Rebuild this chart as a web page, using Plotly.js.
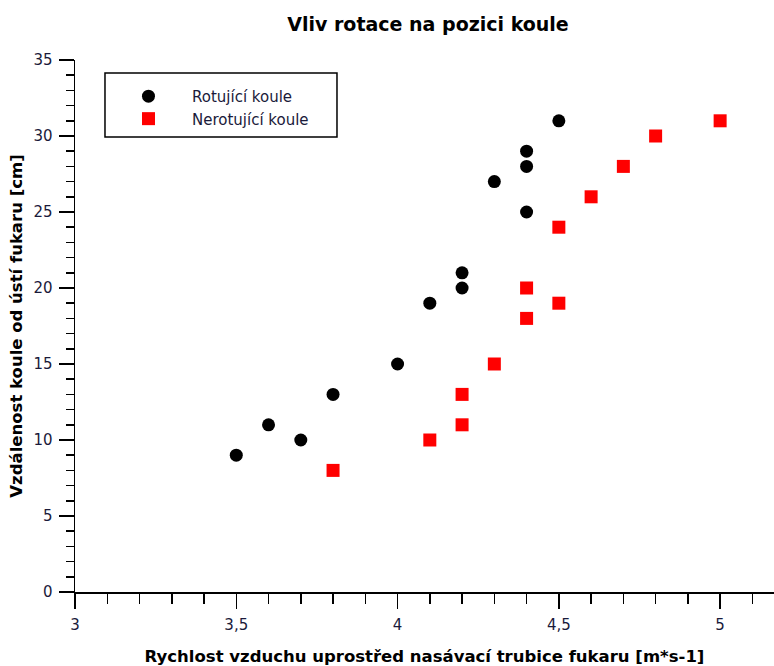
<!DOCTYPE html>
<html>
<head>
<meta charset="utf-8">
<script src="https://cdn.plot.ly/plotly-3.0.1.min.js"></script>
<style>html,body{margin:0;padding:0;background:#fff;}#chart{width:774px;height:666px;}</style>
</head>
<body>
<div id="chart"></div>
<script>
const rotX = [3.5, 3.6, 3.7, 3.8, 4.0, 4.1, 4.2, 4.2, 4.3, 4.4, 4.4, 4.4, 4.5];
const rotY = [9, 11, 10, 13, 15, 19, 20, 21, 27, 25, 28, 29, 31];
const nerX = [3.8, 4.1, 4.2, 4.2, 4.3, 4.4, 4.4, 4.5, 4.5, 4.6, 4.7, 4.8, 5.0];
const nerY = [8, 10, 11, 13, 15, 18, 20, 19, 24, 26, 28, 30, 31];
const seriesNames = ['Rotující koule', 'Nerotující koule'];
const chartTitle = 'Vliv rotace na pozici koule';
const xTitle = 'Rychlost vzduchu uprostřed nasávací trubice fukaru [m*s-1]';
const yTitle = 'Vzdálenost koule od ústí fukaru [cm]';

const font = 'DejaVu Sans, Verdana, sans-serif';
const textColor = '#1a1a3a';
const traces = [
  {x: rotX, y: rotY, name: seriesNames[0], type: 'scatter', mode: 'markers',
   marker: {symbol: 'circle', size: 13, color: '#000000'}},
  {x: nerX, y: nerY, name: seriesNames[1], type: 'scatter', mode: 'markers',
   marker: {symbol: 'square', size: 13, color: '#ff0000'}}
];
const axisCommon = {
  showgrid: false, zeroline: false, showline: true, linecolor: '#000', linewidth: 1.5,
  ticks: 'outside', tickcolor: '#000', tickwidth: 1.5,
  tickfont: {family: font, size: 15, color: textColor}
};
const layout = {
  width: 774, height: 666,
  margin: {l: 75, r: 0, t: 60, b: 74},
  paper_bgcolor: '#fff', plot_bgcolor: '#fff',
  separators: ',.',
  title: {text: chartTitle, font: {family: font, size: 19, color: '#000', weight: 'bold'},
          x: 0.553, xanchor: 'center', y: 0.964, yanchor: 'middle'},
  xaxis: Object.assign({}, axisCommon, {
    range: [3, 5.167], dtick: 0.5, tick0: 3, ticklen: 15, ticklabelstandoff: 3,
    minor: {dtick: 0.1, ticklen: 10, ticks: 'outside', tickcolor: '#000', tickwidth: 1.5},
    title: {text: xTitle, font: {family: font, size: 16.5, color: '#000', weight: 'bold'}, standoff: 19}
  }),
  yaxis: Object.assign({}, axisCommon, {
    range: [0, 35], dtick: 5, tick0: 0, ticklen: 15, ticklabelstandoff: 3,
    minor: {dtick: 1, ticklen: 8, ticks: 'outside', tickcolor: '#000', tickwidth: 1.5},
    title: {text: yTitle, font: {family: font, size: 16.5, color: '#000', weight: 'bold'}, standoff: 6}
  }),
  showlegend: true,
  legend: {x: 0.0429, y: 0.9626, xanchor: 'left', yanchor: 'top',
           bgcolor: 'rgba(0,0,0,0)', borderwidth: 0, itemwidth: 77,
           font: {family: font, size: 15, color: textColor}},
  shapes: [{type: 'rect', xref: 'paper', yref: 'paper', x0: 0.0429, x1: 0.3748, y0: 0.8553, y1: 0.9756,
            line: {color: '#000', width: 1.5}, fillcolor: 'rgba(0,0,0,0)', layer: 'below'}]
};
Plotly.newPlot('chart', traces, layout, {displayModeBar: false, staticPlot: true});
</script>
</body>
</html>
